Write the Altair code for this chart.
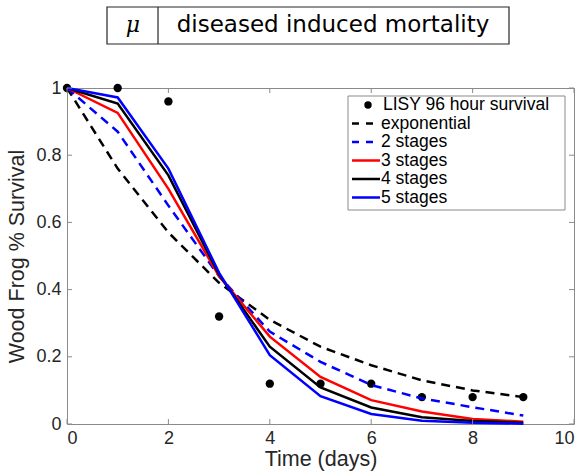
import altair as alt
import pandas as pd

# ---- data ----
days = [0, 1, 2, 3, 4, 5, 6, 7, 8, 9]
observed = [1.0, 1.0, 0.96, 0.32, 0.12, 0.12, 0.12, 0.08, 0.08, 0.08]
exponential = [1.0, 0.76, 0.57, 0.42, 0.31, 0.23, 0.175, 0.13, 0.10, 0.08]
stages2 = [1.0, 0.87, 0.65, 0.44, 0.275, 0.185, 0.116, 0.076, 0.05, 0.025]
stages3 = [1.0, 0.926, 0.70, 0.44, 0.26, 0.14, 0.071, 0.037, 0.015, 0.007]
stages4 = [1.0, 0.954, 0.74, 0.445, 0.23, 0.109, 0.049, 0.02, 0.009, 0.004]
stages5 = [1.0, 0.972, 0.76, 0.45, 0.205, 0.083, 0.03, 0.01, 0.004, 0.001]
x_ticks = [0, 2, 4, 6, 8, 10]
y_ticks = [0, 0.2, 0.4, 0.6, 0.8, 1.0]

W, H = 507, 336
FONT = "Liberation Sans"
AX = "#8a8a8a"
TXT = "#262626"

obs_df = pd.DataFrame({"day": days, "value": observed})

def series_df(vals):
    return pd.DataFrame({"day": days, "value": vals})

xs = alt.Scale(domain=[0, 10], nice=False)
ys = alt.Scale(domain=[0, 1], nice=False)

xaxis = alt.Axis(values=x_ticks, domain=False, ticks=False, grid=False,
                 labelFontSize=18, labelColor=TXT, labelFont=FONT, labelPadding=5,
                 title="Time (days)", titleFontSize=21.5, titleFont=FONT,
                 titleFontWeight="normal", titleColor=TXT, titlePadding=1)
yaxis = alt.Axis(values=y_ticks, domain=False, ticks=False, grid=False, format="~g",
                 labelFontSize=18, labelColor=TXT, labelFont=FONT, labelPadding=6,
                 title="Wood Frog % Survival", titleFontSize=21.5, titleFont=FONT,
                 titleFontWeight="normal", titleColor=TXT, titlePadding=7)

points = alt.Chart(obs_df).mark_circle(color="black", opacity=1, size=70).encode(
    x=alt.X("day:Q", scale=xs, axis=xaxis),
    y=alt.Y("value:Q", scale=ys, axis=yaxis),
)

def line(vals, color, dash=None):
    kw = dict(color=color, strokeWidth=2.5, clip=False)
    if dash:
        kw["strokeDash"] = dash
    return alt.Chart(series_df(vals)).mark_line(**kw).encode(
        x=alt.X("day:Q", scale=xs), y=alt.Y("value:Q", scale=ys))

lines = [
    line(exponential, "black", [9, 6]),
    line(stages2, "#0000ff", [9, 6]),
    line(stages3, "#ff0000"),
    line(stages4, "black"),
    line(stages5, "#0000ff"),
]

# inward ticks on all four sides
xt = pd.DataFrame({"t": x_ticks})
yt = pd.DataFrame({"t": y_ticks})
tick_layers = [
    alt.Chart(xt).mark_rule(color=AX, strokeWidth=1).encode(
        x=alt.X("t:Q", scale=xs), y=alt.value(H), y2=alt.value(H - 5)),
    alt.Chart(xt).mark_rule(color=AX, strokeWidth=1).encode(
        x=alt.X("t:Q", scale=xs), y=alt.value(0), y2=alt.value(5)),
    alt.Chart(yt).mark_rule(color=AX, strokeWidth=1).encode(
        y=alt.Y("t:Q", scale=ys), x=alt.value(0), x2=alt.value(5)),
    alt.Chart(yt).mark_rule(color=AX, strokeWidth=1).encode(
        y=alt.Y("t:Q", scale=ys), x=alt.value(W), x2=alt.value(W - 5)),
]

one = alt.Data(values=[{}])

# legend
leg_box = alt.Chart(one).mark_rect(fill="white", stroke=AX, strokeWidth=1).encode(
    x=alt.value(281), x2=alt.value(498), y=alt.value(8), y2=alt.value(122))
leg_rows = [17, 35.5, 54, 72.5, 91, 109.5]
leg_labels = ["LISY 96 hour survival", "exponential", "2 stages", "3 stages",
              "4 stages", "5 stages"]
leg_styles = [None, ("black", [7, 7]), ("#0000ff", [7, 7]), ("#ff0000", None),
              ("black", None), ("#0000ff", None)]
legend_layers = [leg_box]
for ry, lab, st in zip(leg_rows, leg_labels, leg_styles):
    if st is None:
        legend_layers.append(alt.Chart(one).mark_circle(color="black", opacity=1, size=55).encode(
            x=alt.value(301), y=alt.value(ry)))
        tx = 316
    else:
        kw = dict(color=st[0], strokeWidth=2.5)
        if st[1]:
            kw["strokeDash"] = st[1]
        legend_layers.append(alt.Chart(one).mark_rule(**kw).encode(
            x=alt.value(285), x2=alt.value(313), y=alt.value(ry)))
        tx = 314
    legend_layers.append(alt.Chart(one).mark_text(
        text=lab, font=FONT, fontSize=17.5, color="black", align="left",
        baseline="middle").encode(x=alt.value(tx), y=alt.value(ry)))

# header box
hdr = [
    alt.Chart(one).mark_rect(fill="white", stroke=TXT, strokeWidth=1.2).encode(
        x=alt.value(40), x2=alt.value(442), y=alt.value(-81), y2=alt.value(-44)),
    alt.Chart(one).mark_rule(color=TXT, strokeWidth=1.2).encode(
        x=alt.value(91), y=alt.value(-81), y2=alt.value(-44)),
    alt.Chart(one).mark_text(text="μ", font="DejaVu Serif", fontStyle="italic",
                             fontSize=22, color="black", align="center",
                             baseline="middle").encode(x=alt.value(66), y=alt.value(-63)),
    alt.Chart(one).mark_text(text="diseased induced mortality", font="DejaVu Sans",
                             fontSize=23, color="black", align="center",
                             baseline="middle").encode(x=alt.value(266), y=alt.value(-63)),
]

chart = alt.layer(points, *lines, *tick_layers, *legend_layers, *hdr).properties(
    width=W, height=H,
    autosize=alt.AutoSizeParams(type="none"),
    padding={"left": 67, "top": 88, "right": 13, "bottom": 48},
    background="white",
).configure_view(stroke=AX, strokeWidth=1)

chart.save("out.html", embed_options={"renderer": "svg", "actions": False})
